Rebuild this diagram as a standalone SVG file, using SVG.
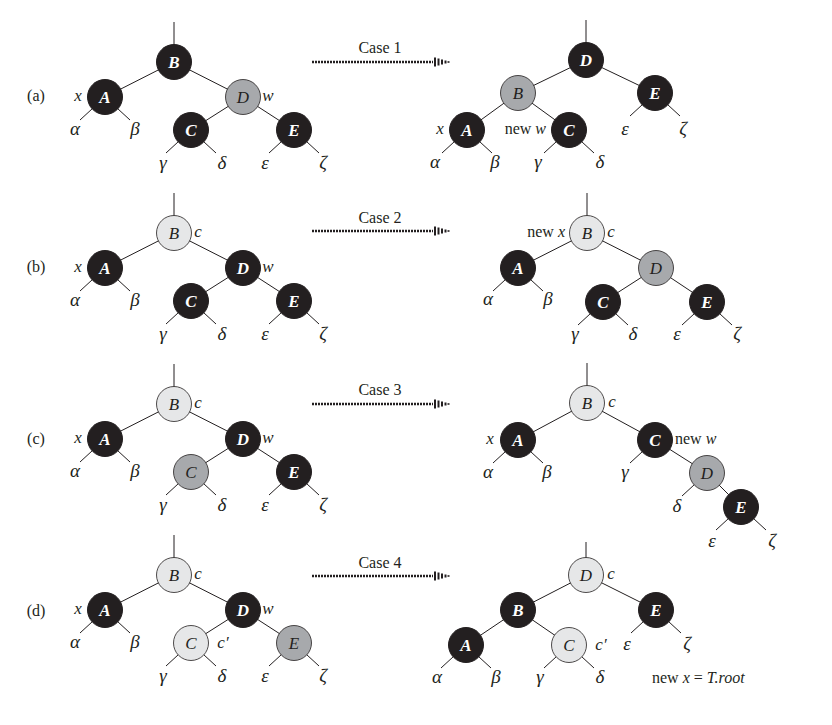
<svg xmlns="http://www.w3.org/2000/svg" xmlns:xlink="http://www.w3.org/1999/xlink" width="832" height="725" viewBox="0 0 832 725">
<defs>
<style>
.e{stroke:#231f20;stroke-width:1;fill:none}
.blk{fill:#231f20;stroke:#231f20;stroke-width:1}
.gry{fill:#a7a9ac;stroke:#231f20;stroke-width:0.8}
.lgt{fill:#e6e7e8;stroke:#231f20;stroke-width:0.8}
.nw{font-family:"Liberation Serif","Times New Roman",serif;font-style:italic;font-weight:bold;font-size:17px;fill:#ffffff;text-anchor:middle}
.nb{font-family:"Liberation Serif","Times New Roman",serif;font-style:italic;font-size:17px;fill:#231f20;text-anchor:middle}
.g{font-family:"Liberation Serif","Times New Roman",serif;font-style:italic;font-size:19px;fill:#231f20;text-anchor:middle}
.it{font-family:"Liberation Serif","Times New Roman",serif;font-style:italic;font-size:17px;fill:#231f20;text-anchor:middle}
.t{font-family:"Liberation Serif","Times New Roman",serif;font-size:16px;fill:#231f20}
.ar{stroke:#231f20;stroke-width:2.6;stroke-dasharray:2 1;fill:none}
.ah{stroke:#231f20;stroke-width:2;fill:none}
</style>
<g id="arrowhead">
<line x1="0" y1="0" x2="121" y2="0" class="ar"/>
<line x1="123" y1="-4.5" x2="123" y2="4.5" class="ah"/>
<line x1="126.5" y1="-3.5" x2="126.5" y2="3.5" class="ah"/>
<line x1="130" y1="-2.5" x2="130" y2="2.5" class="ah"/>
<line x1="133.5" y1="-1.5" x2="133.5" y2="1.5" class="ah"/>
<line x1="136.5" y1="-0.8" x2="136.5" y2="0.8" class="ah"/>
</g>
</defs>
<rect width="832" height="725" fill="#ffffff"/>

<g id="rowlabels" class="t">
<text x="36" y="101" text-anchor="middle">(a)</text>
<text x="36" y="272" text-anchor="middle">(b)</text>
<text x="36" y="444" text-anchor="middle">(c)</text>
<text x="36" y="616" text-anchor="middle">(d)</text>
</g>

<g id="cases">
<use xlink:href="#arrowhead" transform="translate(312,62)"/>
<text class="t" x="380" y="53" text-anchor="middle" font-size="17">Case 1</text>
<use xlink:href="#arrowhead" transform="translate(312,231)"/>
<text class="t" x="380" y="223" text-anchor="middle" font-size="17">Case 2</text>
<use xlink:href="#arrowhead" transform="translate(312,404)"/>
<text class="t" x="380" y="395" text-anchor="middle" font-size="17">Case 3</text>
<use xlink:href="#arrowhead" transform="translate(312,576)"/>
<text class="t" x="380" y="568" text-anchor="middle" font-size="17">Case 4</text>
</g>

<g id="connectors" class="e">
<line x1="174" y1="22" x2="174" y2="62"/>
<line x1="174" y1="62" x2="105" y2="97"/><line x1="174" y1="62" x2="243" y2="97"/>
<line x1="243" y1="97" x2="191" y2="130"/><line x1="243" y1="97" x2="294" y2="130"/>
<line x1="105" y1="97" x2="80" y2="120"/><line x1="105" y1="97" x2="130" y2="120"/>
<line x1="191" y1="130" x2="166" y2="153"/><line x1="191" y1="130" x2="216" y2="153"/>
<line x1="294" y1="130" x2="269" y2="153"/><line x1="294" y1="130" x2="319" y2="153"/>
<line x1="586" y1="20" x2="586" y2="60"/>
<line x1="586" y1="60" x2="518" y2="93"/><line x1="586" y1="60" x2="655" y2="93"/>
<line x1="518" y1="93" x2="467" y2="130"/><line x1="518" y1="93" x2="569" y2="130"/>
<line x1="467" y1="130" x2="442" y2="153"/><line x1="467" y1="130" x2="492" y2="153"/>
<line x1="569" y1="130" x2="544" y2="153"/><line x1="569" y1="130" x2="594" y2="153"/>
<line x1="655" y1="93" x2="630" y2="116"/><line x1="655" y1="93" x2="680" y2="116"/>
<line x1="174" y1="193" x2="174" y2="233"/>
<line x1="174" y1="233" x2="105" y2="268"/><line x1="174" y1="233" x2="243" y2="268"/>
<line x1="243" y1="268" x2="191" y2="301"/><line x1="243" y1="268" x2="294" y2="301"/>
<line x1="105" y1="268" x2="80" y2="291"/><line x1="105" y1="268" x2="130" y2="291"/>
<line x1="191" y1="301" x2="166" y2="324"/><line x1="191" y1="301" x2="216" y2="324"/>
<line x1="294" y1="301" x2="269" y2="324"/><line x1="294" y1="301" x2="319" y2="324"/>
<line x1="587" y1="193" x2="587" y2="233"/>
<line x1="587" y1="233" x2="518" y2="268"/><line x1="587" y1="233" x2="656" y2="268"/>
<line x1="656" y1="268" x2="603" y2="302"/><line x1="656" y1="268" x2="707" y2="302"/>
<line x1="518" y1="268" x2="493" y2="291"/><line x1="518" y1="268" x2="543" y2="291"/>
<line x1="603" y1="302" x2="578" y2="325"/><line x1="603" y1="302" x2="628" y2="325"/>
<line x1="707" y1="302" x2="682" y2="325"/><line x1="707" y1="302" x2="732" y2="325"/>
<line x1="174" y1="364" x2="174" y2="404"/>
<line x1="174" y1="404" x2="105" y2="439"/><line x1="174" y1="404" x2="243" y2="439"/>
<line x1="243" y1="439" x2="191" y2="472"/><line x1="243" y1="439" x2="294" y2="472"/>
<line x1="105" y1="439" x2="80" y2="462"/><line x1="105" y1="439" x2="130" y2="462"/>
<line x1="191" y1="472" x2="166" y2="495"/><line x1="191" y1="472" x2="216" y2="495"/>
<line x1="294" y1="472" x2="269" y2="495"/><line x1="294" y1="472" x2="319" y2="495"/>
<line x1="587" y1="363" x2="587" y2="403"/>
<line x1="587" y1="403" x2="518" y2="440"/><line x1="587" y1="403" x2="655" y2="440"/>
<line x1="655" y1="440" x2="707" y2="473"/><line x1="707" y1="473" x2="741" y2="507"/>
<line x1="518" y1="440" x2="493" y2="463"/><line x1="518" y1="440" x2="543" y2="463"/>
<line x1="655" y1="440" x2="630" y2="463"/>
<line x1="707" y1="473" x2="682" y2="496"/>
<line x1="741" y1="507" x2="716" y2="530"/><line x1="741" y1="507" x2="766" y2="530"/>
<line x1="174" y1="535" x2="174" y2="575"/>
<line x1="174" y1="575" x2="105" y2="610"/><line x1="174" y1="575" x2="243" y2="610"/>
<line x1="243" y1="610" x2="191" y2="643"/><line x1="243" y1="610" x2="294" y2="643"/>
<line x1="105" y1="610" x2="80" y2="633"/><line x1="105" y1="610" x2="130" y2="633"/>
<line x1="191" y1="643" x2="166" y2="666"/><line x1="191" y1="643" x2="216" y2="666"/>
<line x1="294" y1="643" x2="269" y2="666"/><line x1="294" y1="643" x2="319" y2="666"/>
<line x1="586" y1="542" x2="586" y2="575"/>
<line x1="586" y1="575" x2="518" y2="610"/><line x1="586" y1="575" x2="656" y2="610"/>
<line x1="518" y1="610" x2="466" y2="645"/><line x1="518" y1="610" x2="569" y2="645"/>
<line x1="466" y1="645" x2="441" y2="668"/><line x1="466" y1="645" x2="491" y2="668"/>
<line x1="569" y1="645" x2="544" y2="668"/><line x1="569" y1="645" x2="594" y2="668"/>
<line x1="656" y1="610" x2="631" y2="633"/><line x1="656" y1="610" x2="681" y2="633"/>
</g>

<g id="a-left-B"><circle cx="174" cy="62" r="17.5" class="blk"/><text x="174" y="68" class="nw">B</text></g>
<g id="a-left-A"><circle cx="105" cy="97" r="17.5" class="blk"/><text x="105" y="103" class="nw">A</text></g>
<g id="a-left-D"><circle cx="243" cy="97" r="17.5" class="gry"/><text x="243" y="103" class="nb">D</text></g>
<g id="a-left-C"><circle cx="191" cy="130" r="17.5" class="blk"/><text x="191" y="136" class="nw">C</text></g>
<g id="a-left-E"><circle cx="294" cy="130" r="17.5" class="blk"/><text x="294" y="136" class="nw">E</text></g>
<g id="a-right-D"><circle cx="586" cy="60" r="17.5" class="blk"/><text x="586" y="66" class="nw">D</text></g>
<g id="a-right-B"><circle cx="518" cy="93" r="17.5" class="gry"/><text x="518" y="99" class="nb">B</text></g>
<g id="a-right-E"><circle cx="655" cy="93" r="17.5" class="blk"/><text x="655" y="99" class="nw">E</text></g>
<g id="a-right-A"><circle cx="467" cy="130" r="17.5" class="blk"/><text x="467" y="136" class="nw">A</text></g>
<g id="a-right-C"><circle cx="569" cy="130" r="17.5" class="blk"/><text x="569" y="136" class="nw">C</text></g>

<g id="b-left-B"><circle cx="174" cy="233" r="17.5" class="lgt"/><text x="174" y="239" class="nb">B</text></g>
<g id="b-left-A"><circle cx="105" cy="268" r="17.5" class="blk"/><text x="105" y="274" class="nw">A</text></g>
<g id="b-left-D"><circle cx="243" cy="268" r="17.5" class="blk"/><text x="243" y="274" class="nw">D</text></g>
<g id="b-left-C"><circle cx="191" cy="301" r="17.5" class="blk"/><text x="191" y="307" class="nw">C</text></g>
<g id="b-left-E"><circle cx="294" cy="301" r="17.5" class="blk"/><text x="294" y="307" class="nw">E</text></g>
<g id="b-right-B"><circle cx="587" cy="233" r="17.5" class="lgt"/><text x="587" y="239" class="nb">B</text></g>
<g id="b-right-A"><circle cx="518" cy="268" r="17.5" class="blk"/><text x="518" y="274" class="nw">A</text></g>
<g id="b-right-D"><circle cx="656" cy="268" r="17.5" class="gry"/><text x="656" y="274" class="nb">D</text></g>
<g id="b-right-C"><circle cx="603" cy="302" r="17.5" class="blk"/><text x="603" y="308" class="nw">C</text></g>
<g id="b-right-E"><circle cx="707" cy="302" r="17.5" class="blk"/><text x="707" y="308" class="nw">E</text></g>

<g id="c-left-B"><circle cx="174" cy="404" r="17.5" class="lgt"/><text x="174" y="410" class="nb">B</text></g>
<g id="c-left-A"><circle cx="105" cy="439" r="17.5" class="blk"/><text x="105" y="445" class="nw">A</text></g>
<g id="c-left-D"><circle cx="243" cy="439" r="17.5" class="blk"/><text x="243" y="445" class="nw">D</text></g>
<g id="c-left-C"><circle cx="191" cy="472" r="17.5" class="gry"/><text x="191" y="478" class="nb">C</text></g>
<g id="c-left-E"><circle cx="294" cy="472" r="17.5" class="blk"/><text x="294" y="478" class="nw">E</text></g>
<g id="c-right-B"><circle cx="587" cy="403" r="17.5" class="lgt"/><text x="587" y="409" class="nb">B</text></g>
<g id="c-right-A"><circle cx="518" cy="440" r="17.5" class="blk"/><text x="518" y="446" class="nw">A</text></g>
<g id="c-right-C"><circle cx="655" cy="440" r="17.5" class="blk"/><text x="655" y="446" class="nw">C</text></g>
<g id="c-right-D"><circle cx="707" cy="473" r="17.5" class="gry"/><text x="707" y="479" class="nb">D</text></g>
<g id="c-right-E"><circle cx="741" cy="507" r="17.5" class="blk"/><text x="741" y="513" class="nw">E</text></g>

<g id="d-left-B"><circle cx="174" cy="575" r="17.5" class="lgt"/><text x="174" y="581" class="nb">B</text></g>
<g id="d-left-A"><circle cx="105" cy="610" r="17.5" class="blk"/><text x="105" y="616" class="nw">A</text></g>
<g id="d-left-D"><circle cx="243" cy="610" r="17.5" class="blk"/><text x="243" y="616" class="nw">D</text></g>
<g id="d-left-C"><circle cx="191" cy="643" r="17.5" class="lgt"/><text x="191" y="649" class="nb">C</text></g>
<g id="d-left-E"><circle cx="294" cy="643" r="17.5" class="gry"/><text x="294" y="649" class="nb">E</text></g>
<g id="d-right-D"><circle cx="586" cy="575" r="17.5" class="lgt"/><text x="586" y="581" class="nb">D</text></g>
<g id="d-right-B"><circle cx="518" cy="610" r="17.5" class="blk"/><text x="518" y="616" class="nw">B</text></g>
<g id="d-right-E"><circle cx="656" cy="610" r="17.5" class="blk"/><text x="656" y="616" class="nw">E</text></g>
<g id="d-right-A"><circle cx="466" cy="645" r="17.5" class="blk"/><text x="466" y="651" class="nw">A</text></g>
<g id="d-right-C"><circle cx="569" cy="645" r="17.5" class="lgt"/><text x="569" y="651" class="nb">C</text></g>

<g id="subtrees" class="g">
<text x="75" y="135">α</text><text x="135" y="135">β</text>
<text x="163" y="169">γ</text><text x="222" y="169">δ</text><text x="265" y="169">ε</text><text x="323" y="169">ζ</text>
<text x="435" y="168">α</text><text x="495" y="168">β</text><text x="538" y="168">γ</text><text x="600" y="168">δ</text>
<text x="625" y="135">ε</text><text x="683" y="135">ζ</text>
<text x="75" y="306">α</text><text x="135" y="306">β</text>
<text x="163" y="340">γ</text><text x="222" y="340">δ</text><text x="265" y="340">ε</text><text x="323" y="340">ζ</text>
<text x="488" y="305">α</text><text x="548" y="305">β</text>
<text x="575" y="340">γ</text><text x="633" y="340">δ</text><text x="677" y="340">ε</text><text x="737" y="340">ζ</text>
<text x="75" y="477">α</text><text x="135" y="477">β</text>
<text x="163" y="511">γ</text><text x="222" y="511">δ</text><text x="265" y="511">ε</text><text x="323" y="511">ζ</text>
<text x="488" y="478">α</text><text x="547" y="478">β</text><text x="625" y="478">γ</text>
<text x="677" y="512">δ</text><text x="712" y="547">ε</text><text x="772" y="547">ζ</text>
<text x="75" y="648">α</text><text x="135" y="648">β</text>
<text x="163" y="682">γ</text><text x="222" y="682">δ</text><text x="265" y="682">ε</text><text x="323" y="682">ζ</text>
<text x="437" y="683">α</text><text x="496" y="683">β</text><text x="540" y="683">γ</text><text x="600" y="683">δ</text>
<text x="627" y="650">ε</text><text x="687" y="650">ζ</text>
</g>

<g id="pointers">
<text class="it" x="78" y="101">x</text><text class="it" x="268" y="101">w</text>
<text class="it" x="440" y="134">x</text>
<text class="t" x="546" y="134" text-anchor="end" font-size="17">new <tspan font-style="italic">w</tspan></text>
<text class="it" x="78" y="272">x</text><text class="it" x="268" y="272">w</text><text class="it" x="198" y="237">c</text>
<text class="t" x="565" y="237" text-anchor="end" font-size="17">new <tspan font-style="italic">x</tspan></text>
<text class="it" x="611" y="237">c</text>
<text class="it" x="78" y="443">x</text><text class="it" x="268" y="443">w</text><text class="it" x="198" y="408">c</text>
<text class="it" x="490" y="444">x</text><text class="it" x="612" y="407">c</text>
<text class="t" x="675" y="444" font-size="17">new <tspan font-style="italic">w</tspan></text>
<text class="it" x="78" y="614">x</text><text class="it" x="268" y="614">w</text><text class="it" x="198" y="579">c</text>
<text class="it" x="223" y="648">c′</text>
<text class="it" x="611" y="579">c</text><text class="it" x="601" y="650">c′</text>
<text class="t" x="652" y="683" font-size="17">new <tspan font-style="italic">x</tspan> = <tspan font-style="italic">T.root</tspan></text>
</g>
</svg>
